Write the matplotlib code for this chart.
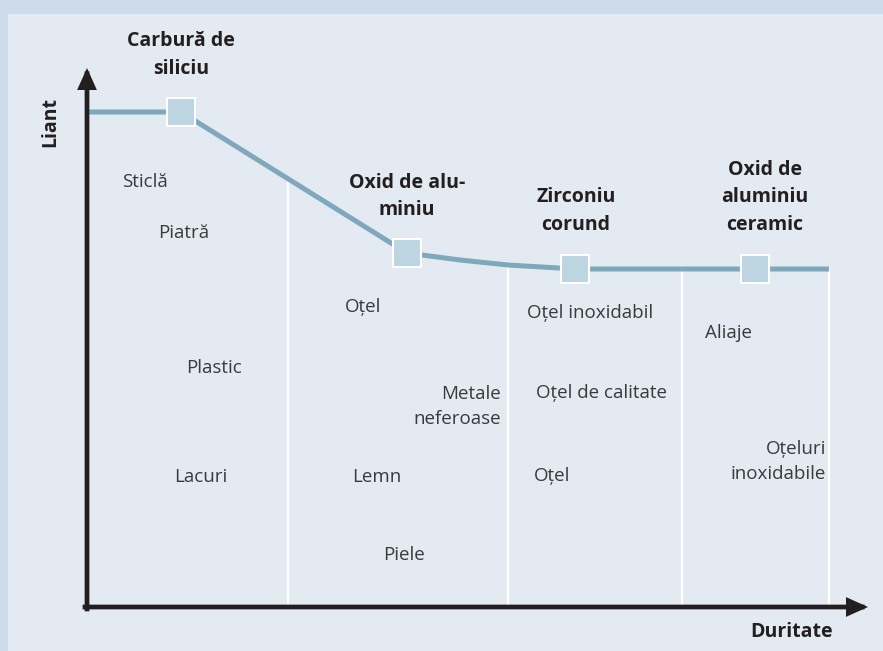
import numpy as np
import matplotlib
matplotlib.use("Agg")
import matplotlib.pyplot as plt
from matplotlib.patches import Rectangle

plt.rcParams['font.family'] = ['Open Sans', 'DejaVu Sans']

# ---- data (chart units: origin at the axes corner) ----
hardness = [1, 94, 320, 373, 421, 488, 668, 742]
binder = [495, 495, 354, 347, 342, 338, 338, 338]
marker_hardness = [94, 320, 488, 668]
marker_binder = [495, 354, 338, 338]
separators = [201, 421, 595, 742]

abrasives = ["Carbură de\nsiliciu", "Oxid de alu-\nminiu", "Zirconiu\ncorund",
             "Oxid de\naluminiu\nceramic"]
materials = ["Sticlă", "Piatră", "Plastic", "Lacuri", "Oțel", "Metale\nneferoase",
             "Lemn", "Piele", "Oțel inoxidabil", "Oțel de calitate", "Oțel",
             "Aliaje", "Oțeluri\ninoxidabile"]
x_label = "Duritate"
y_label = "Liant"

# ---- layout (baseline of the last line) ----
abrasive_pos = [(94, 533), (320, 392), (489, 377), (678, 377)]
material_pos = [(35, 420, 'left'), (71, 369, 'left'), (99, 234, 'left'),
                (87, 125, 'left'), (258, 295, 'left'), (414, 183, 'right'),
                (265, 125, 'left'), (296, 47, 'left'), (440, 289, 'left'),
                (449, 209, 'left'), (447, 126, 'left'), (618, 269, 'left'),
                (739, 128, 'right')]

line_col = '#7fa8bc'
marker_col = '#bdd5e1'
axis_col = '#231f20'
text_col = '#3a3a3a'

fig = plt.figure(figsize=(8.83, 6.51), dpi=100, facecolor='#cddceb')
ax = fig.add_axes([0, 0, 1, 1])
ax.set_xlim(-87, 796)
ax.set_ylim(-44, 607)
ax.axis('off')
ax.add_patch(Rectangle((8 / 883, 0), 1, 1 - 14 / 651, transform=fig.transFigure,
                       facecolor='#e3eaf2', edgecolor='none', zorder=0))

# separators (white vertical lines from curve down to axis)
for sx in separators:
    top = np.interp(sx, hardness, binder)
    ax.plot([sx, sx], [0, top], color='white', lw=1.6, zorder=1)

# main line
ax.plot(hardness, binder, color=line_col, lw=3.6, solid_capstyle='butt', zorder=2)
ax.plot(marker_hardness, marker_binder, ls='none', marker='s', ms=19.5,
        mfc=marker_col, mec='white', mew=1.5, zorder=3)

# axes arrows
arrow = dict(arrowstyle='-|>,head_length=1.0,head_width=0.45', lw=3.4, color=axis_col,
             shrinkA=0, shrinkB=0, mutation_scale=10, joinstyle='miter',
             capstyle='projecting')
ax.annotate('', xy=(0, 539), xytext=(0, -2), arrowprops=arrow, zorder=4)
ax.annotate('', xy=(781, 0), xytext=(-2, 0), arrowprops=arrow, zorder=4)

# labels
for name, (x, y) in zip(abrasives, abrasive_pos):
    ax.text(x, y, name, ha='center', va='baseline', fontsize=14, fontweight='bold',
            color=axis_col, linespacing=1.5, multialignment='center', zorder=5)
for name, (x, y, h) in zip(materials, material_pos):
    ax.text(x, y, name, ha=h, va='baseline', fontsize=13.5, color=text_col,
            linespacing=1.5, multialignment=h, zorder=5)

ax.text(705, -30, x_label, ha='center', va='baseline', fontsize=14,
        fontweight='bold', color=axis_col, zorder=5)
ax.text(-37, 485, y_label, ha='center', va='center', rotation=90, fontsize=14,
        fontweight='bold', color=axis_col, zorder=5)

fig.savefig('out.png', dpi=100, facecolor=fig.get_facecolor())
